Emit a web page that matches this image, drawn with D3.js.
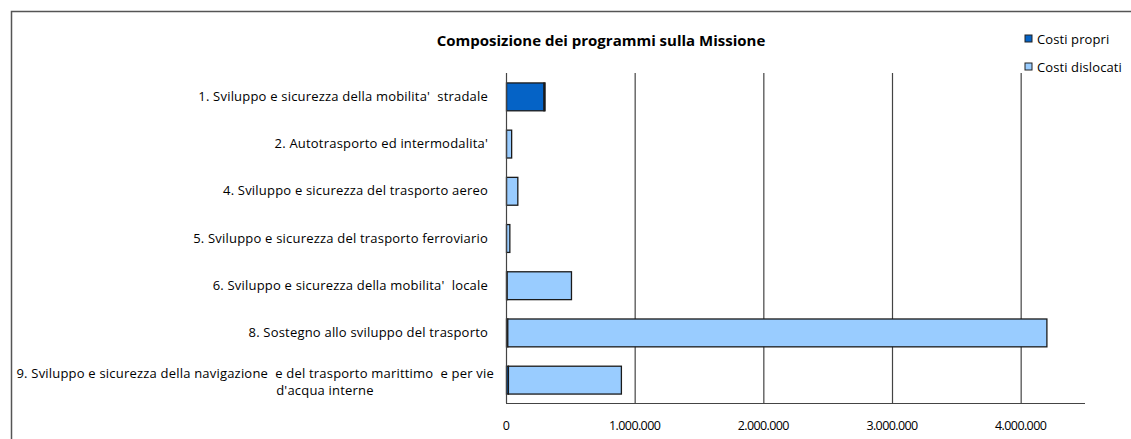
<!DOCTYPE html>
<html>
<head>
<meta charset="utf-8">
<script src="https://cdn.jsdelivr.net/npm/d3@7"></script>
<style>
  body { margin: 0; background: #fff; }
  text { font-family: "Open Sans", sans-serif; fill: #000; white-space: pre; }
</style>
</head>
<body>
<div id="chart"></div>
<script>
// dati
const programmi = [
    "1. Sviluppo e sicurezza della mobilita'  stradale",
    "2. Autotrasporto ed intermodalita'",
    "4. Sviluppo e sicurezza del trasporto aereo",
    "5. Sviluppo e sicurezza del trasporto ferroviario",
    "6. Sviluppo e sicurezza della mobilita'  locale",
    "8. Sostegno allo sviluppo del trasporto",
    "9. Sviluppo e sicurezza della navigazione  e del trasporto marittimo  e per vie|d'acqua interne"
];
const costiPropri = [292000, 0, 0, 0, 5000, 10000, 15000];
const costiDislocati = [4000, 40000, 88000, 26000, 500000, 4190000, 878000];
const serie = ["Costi propri", "Costi dislocati"];
const tickValues = [0, 1000000, 2000000, 3000000, 4000000];

const width = 1131, height = 439;
const margin = { top: 73, right: 46, bottom: 36, left: 506 };
const colori = ["#0563C6", "#99CCFF"];

const svg = d3.select("#chart").append("svg")
    .attr("width", width)
    .attr("height", height);

// cornice esterna
svg.append("rect")
    .attr("x", 11.5).attr("y", 11.5)
    .attr("width", width + 20).attr("height", height + 20)
    .attr("fill", "none").attr("stroke", "#555").attr("stroke-width", 1.5);

const x = d3.scaleLinear()
    .domain([0, 4500000])
    .range([margin.left, width - margin.right]);

const y = d3.scaleBand()
    .domain(programmi)
    .range([margin.top, height - margin.bottom])
    .paddingInner(0.41)
    .paddingOuter(0.2);

// griglia verticale
svg.append("g")
    .selectAll("line")
    .data(tickValues.slice(1))
    .join("line")
    .attr("x1", d => x(d) + 0.5).attr("x2", d => x(d) + 0.5)
    .attr("y1", margin.top).attr("y2", height - margin.bottom)
    .attr("stroke", "#444").attr("stroke-width", 1.2);

const dati = programmi.map((p, i) => ({ nome: p, propri: costiPropri[i], dislocati: costiDislocati[i] }));
const stack = d3.stack().keys(["propri", "dislocati"])(dati);

svg.append("g")
    .selectAll("g")
    .data(stack)
    .join("g")
    .attr("fill", (d, i) => colori[i])
    .selectAll("rect")
    .data(d => d.filter(s => s[1] - s[0] > 0))
    .join("rect")
    .attr("x", d => x(d[0]) + 0.5)
    .attr("y", d => y(d.data.nome) + 0.5)
    .attr("width", d => Math.max(1, x(d[1]) - x(d[0])))
    .attr("height", y.bandwidth())
    .attr("stroke", "#1a1a1a")
    .attr("stroke-width", 1.3);

// asse verticale e orizzontale
svg.append("line")
    .attr("x1", margin.left + 0.5).attr("x2", margin.left + 0.5)
    .attr("y1", margin.top).attr("y2", height - margin.bottom)
    .attr("stroke", "#444").attr("stroke-width", 1.2);
svg.append("line")
    .attr("x1", margin.left).attr("x2", width - margin.right)
    .attr("y1", height - margin.bottom + 0.5).attr("y2", height - margin.bottom + 0.5)
    .attr("stroke", "#444").attr("stroke-width", 1.2);

// etichette asse x
const fmt = d => d3.format(",")(d).replace(/,/g, ".");
svg.append("g")
    .selectAll("text")
    .data(tickValues)
    .join("text")
    .attr("x", d => x(d))
    .attr("y", 430)
    .attr("text-anchor", "middle")
    .style("font-size", "12.5px")
    .style("letter-spacing", "-0.6px")
    .text(fmt);

// etichette categorie
const etichette = svg.append("g")
    .selectAll("text")
    .data(programmi)
    .join("text")
    .attr("x", 488)
    .attr("y", d => y(d) + y.bandwidth() / 2 + 4.5)
    .attr("text-anchor", "end")
    .style("font-size", "13px")
    .style("letter-spacing", "0.2px");
etichette.each(function (d) {
    const righe = d.split("|");
    const t = d3.select(this);
    if (righe.length === 1) {
        t.text(d);
    } else {
        t.attr("y", y(d) + y.bandwidth() / 2 - 2);
        t.append("tspan").attr("x", 494).text(righe[0]);
        t.append("tspan").attr("x", 325).attr("dy", 17).attr("text-anchor", "middle").text(righe[1]);
    }
});

// titolo
svg.append("text")
    .attr("x", 601)
    .attr("y", 46)
    .attr("text-anchor", "middle")
    .style("font-size", "15px")
    .style("font-weight", "bold")
    .text("Composizione dei programmi sulla Missione");

// legenda
const legenda = svg.append("g")
    .selectAll("g")
    .data(serie)
    .join("g")
    .attr("transform", (d, i) => `translate(1025, ${35 + i * 28})`);
legenda.append("rect")
    .attr("width", 7).attr("height", 7)
    .attr("fill", (d, i) => colori[i])
    .attr("stroke", "#222").attr("stroke-width", 1);
legenda.append("text")
    .attr("x", 12).attr("y", 9)
    .style("font-size", "13px")
    .style("letter-spacing", "0.1px")
    .text(d => d);
</script>
</body>
</html>
